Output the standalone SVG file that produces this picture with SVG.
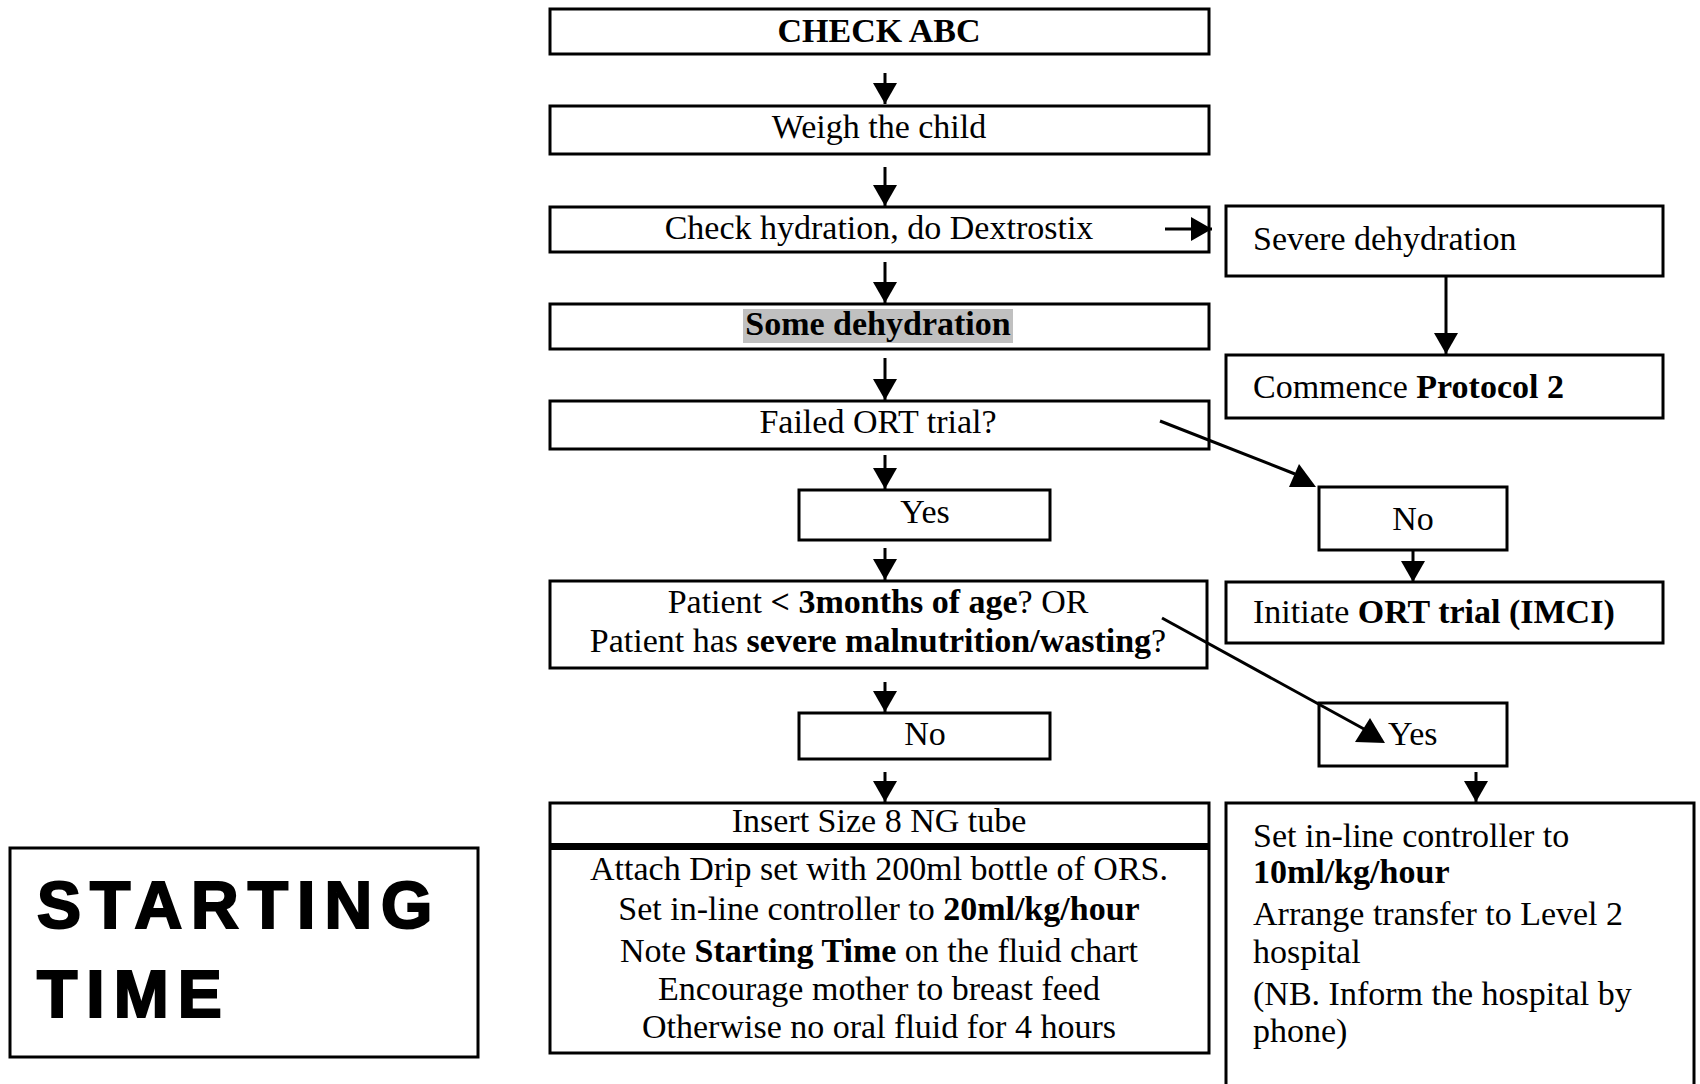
<svg xmlns="http://www.w3.org/2000/svg" width="1700" height="1084" viewBox="0 0 1700 1084">
<style>
.box{fill:#fff;stroke:#000;stroke-width:3}
.t{font-family:"Liberation Serif","Times New Roman",serif;font-size:34px;fill:#000}
.c{text-anchor:middle}
.b{font-weight:bold}
.ln{stroke:#000;stroke-width:3;fill:none}
.big{font-family:"Liberation Sans",Arial,sans-serif;font-weight:bold;font-size:66px;letter-spacing:9px;fill:#000;stroke:#000;stroke-width:2.2}
</style>
<defs>
<marker id="ah" viewBox="0 0 21 24" refX="21" refY="12" markerWidth="21" markerHeight="24" markerUnits="userSpaceOnUse" orient="auto">
<path d="M0,0 L21,12 L0,24 z" fill="#000"/>
</marker>
</defs>
<rect width="1700" height="1084" fill="#fff"/>

<g id="n-check-abc">
<rect class="box" x="550" y="9" width="659" height="45"/>
<text class="t c b" x="879" y="42">CHECK ABC</text>
</g>
<g id="n-weigh">
<rect class="box" x="550" y="106" width="659" height="48"/>
<text class="t c" x="879" y="138">Weigh the child</text>
</g>
<g id="n-hydration">
<rect class="box" x="550" y="207" width="659" height="45"/>
<text class="t c" x="879" y="239">Check hydration, do Dextrostix</text>
</g>
<g id="n-some">
<rect class="box" x="550" y="304" width="659" height="45"/>
<rect x="743" y="309" width="270" height="34" fill="#c0c0c0"/>
<text class="t c b" x="878" y="335">Some dehydration</text>
</g>
<g id="n-failed">
<rect class="box" x="550" y="401" width="659" height="48"/>
<text class="t c" x="878" y="433">Failed ORT trial?</text>
</g>
<g id="n-yes1">
<rect class="box" x="799" y="490" width="251" height="50"/>
<text class="t c" x="925" y="523">Yes</text>
</g>
<g id="n-patient">
<rect class="box" x="550" y="581" width="657" height="87"/>
<text class="t c" x="878" y="613">Patient <tspan class="b">&lt; 3months of age</tspan>? OR</text>
<text class="t c" x="878" y="652">Patient has <tspan class="b">severe malnutrition/wasting</tspan>?</text>
</g>
<g id="n-no1">
<rect class="box" x="799" y="713" width="251" height="46"/>
<text class="t c" x="925" y="745">No</text>
</g>
<g id="n-insert">
<rect class="box" x="550" y="803" width="659" height="250"/>
<line x1="550" y1="846.5" x2="1209" y2="846.5" stroke="#000" stroke-width="7"/>
<text class="t c" x="879" y="832">Insert Size 8 NG tube</text>
<text class="t c" x="879" y="880">Attach Drip set with 200ml bottle of ORS.</text>
<text class="t c" x="879" y="920">Set in-line controller to <tspan class="b">20ml/kg/hour</tspan></text>
<text class="t c" x="879" y="962">Note <tspan class="b">Starting Time</tspan> on the fluid chart</text>
<text class="t c" x="879" y="1000">Encourage mother to breast feed</text>
<text class="t c" x="879" y="1038">Otherwise no oral fluid for 4 hours</text>
</g>
<g id="n-severe">
<rect class="box" x="1226" y="206" width="437" height="70"/>
<text class="t" x="1253" y="250">Severe dehydration</text>
</g>
<g id="n-protocol2">
<rect class="box" x="1226" y="355" width="437" height="63"/>
<text class="t" x="1253" y="398">Commence <tspan class="b">Protocol 2</tspan></text>
</g>
<g id="n-no2">
<rect class="box" x="1319" y="487" width="188" height="63"/>
<text class="t c" x="1413" y="530">No</text>
</g>
<g id="n-initiate">
<rect class="box" x="1226" y="582" width="437" height="61"/>
<text class="t" x="1253" y="623">Initiate <tspan class="b">ORT trial (IMCI)</tspan></text>
</g>
<g id="n-yes2">
<rect class="box" x="1319" y="703" width="188" height="63"/>
<text class="t" x="1388" y="745">Yes</text>
</g>
<g id="n-transfer">
<rect class="box" x="1226" y="803" width="468" height="300"/>
<text class="t" x="1253" y="847">Set in-line controller to</text>
<text class="t b" x="1253" y="883">10ml/kg/hour</text>
<text class="t" x="1253" y="925">Arrange transfer to Level 2</text>
<text class="t" x="1253" y="963">hospital</text>
<text class="t" x="1253" y="1005">(NB. Inform the hospital by</text>
<text class="t" x="1253" y="1042">phone)</text>
</g>
<g id="n-starting-time">
<rect class="box" x="10" y="848" width="468" height="209"/>
<text class="big" x="37" y="928">STARTING</text>
<text class="big" x="37" y="1017">TIME</text>
</g>

<g id="connectors">
<line class="ln" x1="885" y1="73" x2="885" y2="104" marker-end="url(#ah)"/>
<line class="ln" x1="885" y1="167" x2="885" y2="206" marker-end="url(#ah)"/>
<line class="ln" x1="885" y1="262" x2="885" y2="303" marker-end="url(#ah)"/>
<line class="ln" x1="885" y1="358" x2="885" y2="400" marker-end="url(#ah)"/>
<line class="ln" x1="885" y1="455" x2="885" y2="489" marker-end="url(#ah)"/>
<line class="ln" x1="885" y1="548" x2="885" y2="580" marker-end="url(#ah)"/>
<line class="ln" x1="885" y1="682" x2="885" y2="712" marker-end="url(#ah)"/>
<line class="ln" x1="885" y1="772" x2="885" y2="802" marker-end="url(#ah)"/>
<line class="ln" x1="1165" y1="229" x2="1212" y2="229" marker-end="url(#ah)"/>
<line class="ln" x1="1446" y1="276" x2="1446" y2="354" marker-end="url(#ah)"/>
<line class="ln" x1="1413" y1="550" x2="1413" y2="582" marker-end="url(#ah)"/>
<line class="ln" x1="1476" y1="772" x2="1476" y2="802" marker-end="url(#ah)"/>
<line class="ln" x1="1160" y1="421" x2="1295" y2="474"/>
<polygon points="1289,487 1316,487 1299,464" fill="#000"/>
<line class="ln" x1="1162" y1="618" x2="1364" y2="729"/>
<polygon points="1355,742 1385,743 1370,718" fill="#000"/>
</g>
</svg>
